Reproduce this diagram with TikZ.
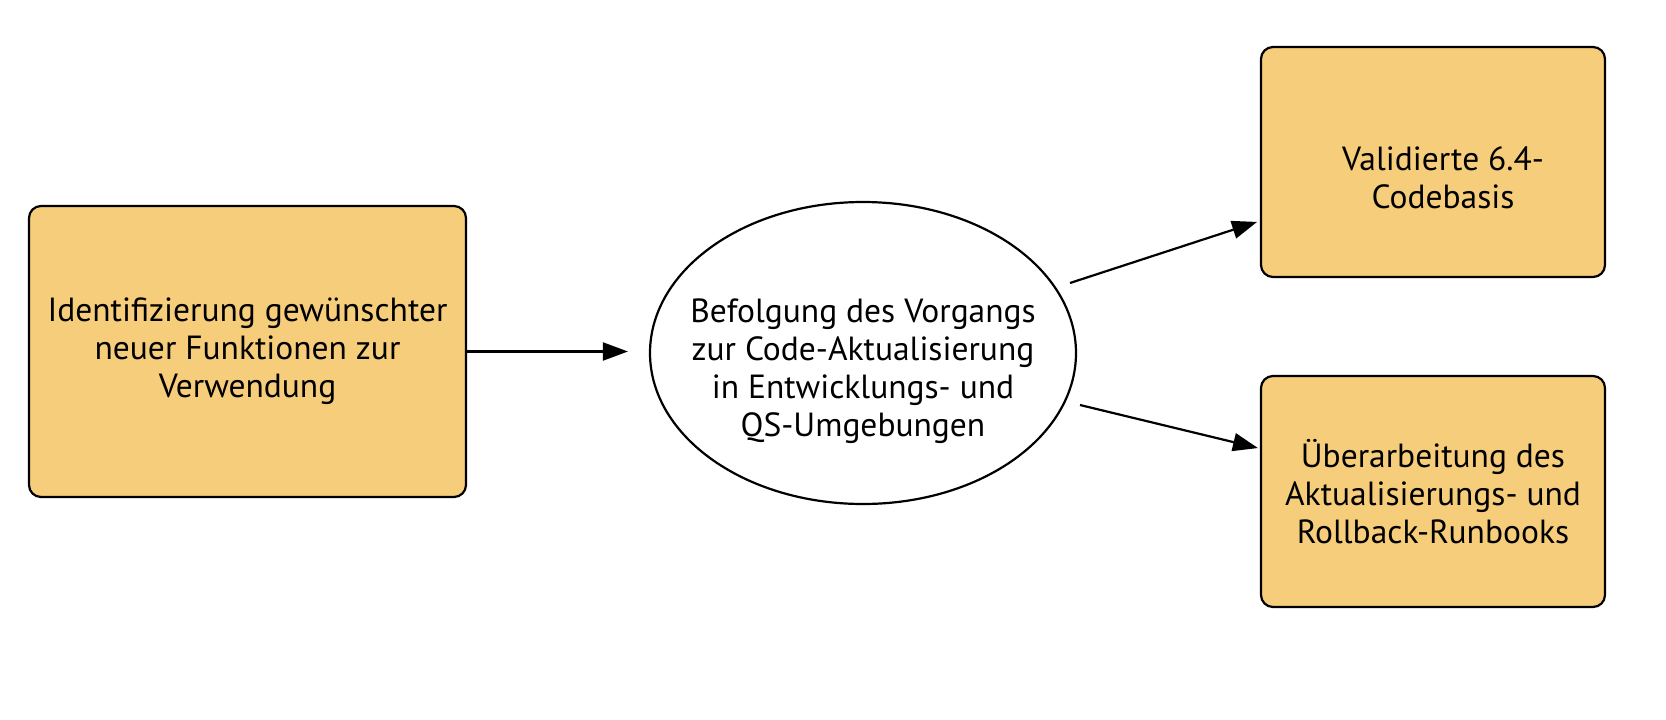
\documentclass[tikz,border=0pt]{standalone}
\usepackage{fontspec}
\setmainfont{PT Sans}
\usetikzlibrary{shapes.geometric, arrows.meta, positioning, calc}
\definecolor{boxfill}{HTML}{F6CD7A}

\begin{document}
\begin{tikzpicture}[x=1pt, y=-1pt,
  task/.style={rectangle, draw=black, fill=boxfill, line width=2.2pt, rounded corners=12pt, align=center, font=\fontsize{33.5}{38}\selectfont, inner sep=0pt},
  proc/.style={ellipse, draw=black, fill=white, line width=2.2pt, align=center, font=\fontsize{33.5}{38}\selectfont, inner sep=0pt},
  arrow/.style={-{Triangle[length=25pt, width=18pt]}, line width=2.2pt, draw=black}
]
  \useasboundingbox (0,0) rectangle (1666,720);

  % Nodes
  \node[task, minimum width=437pt, minimum height=291pt] (ident) at (247.5,351.5) {Identifizierung gewünschter\\neuer Funktionen zur\\Verwendung};
  \node[proc, minimum width=426pt, minimum height=302pt] (follow) at (863,353) {};
  \node[align=center, font=\fontsize{33.5}{38}\selectfont] (followtxt) at (863,371) {Befolgung des Vorgangs\\zur Code-Aktualisierung\\in Entwicklungs- und\\QS-Umgebungen};
  \node[task, minimum width=344pt, minimum height=230pt] (valid) at (1433,162) {};
  \node[align=center, font=\fontsize{33.5}{38}\selectfont] (validtxt) at (1443,178) {Validierte 6.4-\\Codebasis};
  \node[task, minimum width=344pt, minimum height=231pt] (runbook) at (1433,491.5) {Überarbeitung des\\Aktualisierungs- und\\Rollback-Runbooks};

  % Connectors
  \coordinate (out1) at (1070,283);
  \coordinate (out2) at (1080,405);
  \draw[arrow, shorten >=21pt] (ident.east) -- (ident.east -| follow.west);
  \draw[arrow, shorten >=3pt] (out1) -- ($(valid.west)+(0,59)$);
  \draw[arrow, shorten >=2pt] (out2) -- ($(runbook.west)+(0,-43)$);
\end{tikzpicture}
\end{document}
